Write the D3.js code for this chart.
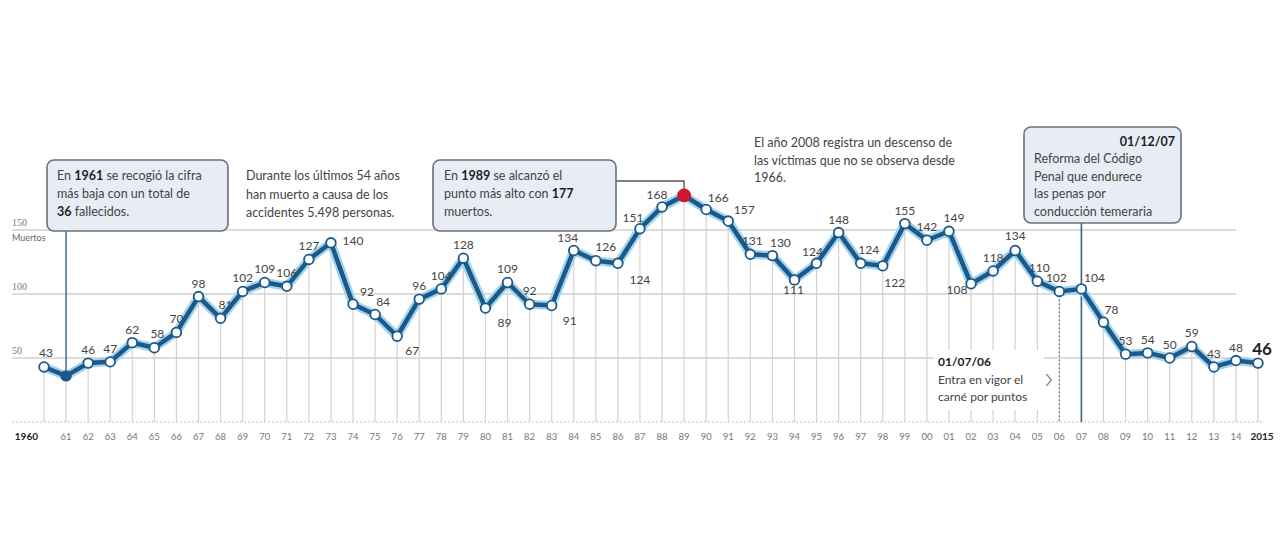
<!DOCTYPE html>
<html><head><meta charset="utf-8">
<script src="https://cdn.jsdelivr.net/npm/d3@7"></script>
<style>
html,body{margin:0;padding:0;background:#fff;}
svg{display:block;font-family:Lato,"Open Sans",sans-serif;}
</style></head>
<body>
<svg id="c" width="1280" height="548"></svg>
<script>
const years = d3.range(1960, 2016);
const deaths = [43,36,46,47,62,58,70,98,81,102,
                109,106,127,140,92,84,67,96,104,128,
                89,109,92,91,134,126,124,151,168,177,
                166,157,131,130,111,124,148,124,122,155,
                142,149,108,118,134,110,102,104,78,53,
                54,50,59,43,48,46];
const yTicks = [50,100,150];
const xTickLabels = years.map(y => (y===1960||y===2015) ? String(y) : String(y).slice(2));

// label placement (dx, dy relative to point); default above
const labelPos = {
  1960:[2,-10],1965:[3,-10],1968:[5,-9],1973:[22,2],1974:[14,-8],1975:[8,-8],
  1976:[15,19],1980:[19,19],1983:[18,19],1984:[-6,-8],1985:[10,-10],1986:[22,21],
  1987:[-7,-7],1988:[-5,-8],1990:[12,-8],1991:[16,-7],1992:[2,-9],1993:[8,-9],
  1994:[-1,14],1995:[-4,-7],1997:[8,-9],1998:[12,21],2001:[5,-9],2002:[-14,10],
  2004:[0,-10],2005:[2,-9],2006:[-3,-9],2007:[13,-7],2008:[8,-8],2015:[4,-8]
};

const svg = d3.select('#c');
const x = d3.scaleLinear().domain([1960,2015]).range([44,1258]);
const y = d3.scaleLinear().domain([0,150]).range([422,230]);
const data = years.map((yr,i)=>({yr, v:deaths[i]}));

// horizontal gridlines
svg.append('g').selectAll('line').data(yTicks).join('line')
  .attr('x1',12).attr('x2',1236).attr('y1',d=>y(d)).attr('y2',d=>y(d))
  .attr('stroke','#b9b9b9').attr('stroke-width',1);
svg.append('line').attr('x1',12).attr('x2',1262).attr('y1',y(0)).attr('y2',y(0))
  .attr('stroke','#c4c4c4').attr('stroke-dasharray','2,2');

// y labels
svg.append('g').selectAll('text').data(yTicks).join('text')
  .attr('x',12).attr('y',d=>y(d)-4).text(d=>d)
  .attr('font-size',10).attr('fill','#777').attr('font-family','"Liberation Serif",serif');
svg.append('text').attr('x',12).attr('y',y(150)+11).text('Muertos')
  .attr('font-size',9).attr('fill','#666');

// vertical year lines
svg.append('g').selectAll('line').data(data).join('line')
  .attr('x1',d=>x(d.yr)).attr('x2',d=>x(d.yr)).attr('y1',d=>y(d.v)).attr('y2',y(0))
  .attr('stroke','#d2d2d2').attr('stroke-width',1.2);

// x labels
svg.append('g').selectAll('text').data(years).join('text')
  .attr('x',(d)=> d===1960 ? 38 : x(d) + (d===2015?4:0))
  .attr('y',440)
  .attr('text-anchor',d=> d===1960 ? 'end' : 'middle')
  .attr('font-size',d=>(d===1960||d===2015)?10:9.5)
  .attr('font-weight',d=>(d===1960||d===2015)?'bold':'normal')
  .attr('fill',d=>(d===1960||d===2015)?'#222':'#777')
  .text((d,i)=>xTickLabels[i]);

// white box behind 01/07/06 note
svg.append('rect').attr('x',934).attr('y',350).attr('width',110).attr('height',60).attr('fill','#fff');
// dotted 2006 line
svg.append('line').attr('x1',x(2006)).attr('x2',x(2006)).attr('y1',y(102)).attr('y2',y(0))
  .attr('stroke','#777').attr('stroke-width',1.3).attr('stroke-dasharray','1.5,2.5');
svg.append('path').attr('d',`M${x(2006)-13},${374} l5,6 l-5,6`).attr('fill','none')
  .attr('stroke','#888').attr('stroke-width',1.3);
const n3 = svg.append('text').attr('x',938).attr('font-size',12).attr('fill','#444');
n3.append('tspan').attr('x',938).attr('y',366).attr('font-weight','bold').attr('fill','#222').text('01/07/06');
n3.append('tspan').attr('x',938).attr('y',384).text('Entra en vigor el');
n3.append('tspan').attr('x',938).attr('y',401).text('carné por puntos');

// 2007 vertical line
svg.append('line').attr('x1',x(2007)).attr('x2',x(2007)).attr('y1',223).attr('y2',y(0))
  .attr('stroke','#3c6585').attr('stroke-width',1.6);

// leader lines for boxes
svg.append('line').attr('x1',x(1961)).attr('x2',x(1961)).attr('y1',231).attr('y2',y(36))
  .attr('stroke','#4f7896').attr('stroke-width',1.6);
svg.append('path').attr('d',`M616,181 H${x(1989)} V${y(177)}`).attr('fill','none')
  .attr('stroke','#555').attr('stroke-width',1.3);

// line
const line = d3.line().x(d=>x(d.yr)).y(d=>y(d.v));
svg.append('path').datum(data).attr('d',line).attr('fill','none')
  .attr('stroke','#9fd3f0').attr('stroke-width',9).attr('stroke-linejoin','round');
svg.append('path').datum(data).attr('d',line).attr('fill','none')
  .attr('stroke','#1c5888').attr('stroke-width',4.5).attr('stroke-linejoin','round');

// points
svg.append('g').selectAll('circle').data(data).join('circle')
  .attr('cx',d=>x(d.yr)).attr('cy',d=>y(d.v))
  .attr('r',d=>d.yr===1989?6:4.8)
  .attr('fill',d=>d.yr===1989?'#d3152f':(d.yr===1961?'#1c5888':'#fff'))
  .attr('stroke',d=>d.yr===1989?'#d3152f':'#1c5888').attr('stroke-width',1.8);

// value labels
svg.append('g').selectAll('text').data(data.filter(d=>d.yr!==1961 && d.yr!==1989)).join('text')
  .attr('x',d=>x(d.yr)+(labelPos[d.yr]?labelPos[d.yr][0]:0))
  .attr('y',d=>y(d.v)+(labelPos[d.yr]?labelPos[d.yr][1]:-9))
  .attr('text-anchor','middle')
  .attr('font-size',d=>d.yr===2015?17:12)
  .attr('font-weight',d=>d.yr===2015?'bold':'normal')
  .attr('fill',d=>d.yr===2015?'#222':'#444')
  .text(d=>d.v);

// annotation boxes
function box(x0,y0,w,h){
  svg.append('rect').attr('x',x0).attr('y',y0).attr('width',w).attr('height',h).attr('rx',7)
    .attr('fill','#e8ecf5').attr('stroke','#6b6f78').attr('stroke-width',1.6);
}
function rich(x0,y0,lines,lh){
  const t = svg.append('text').attr('font-size',12.5).attr('fill','#444');
  lines.forEach((segs,i)=>{
    segs.forEach((s,j)=>{
      const ts = t.append('tspan').text(s[0]);
      if(j===0) ts.attr('x',x0).attr('y',y0+i*lh);
      if(s[1]) ts.attr('font-weight','bold').attr('fill','#222');
    });
  });
}
box(47,160,181,71);
rich(57,180,[[['En '],['1961',1],[' se recogió la cifra']],[['más baja con un total de']],[['36',1],[' fallecidos.']]],18);
box(433,160,183,71);
rich(444,180,[[['En '],['1989',1],[' se alcanzó el']],[['punto más alto con '],['177',1]],[['muertos.']]],18);
box(1024,127,157,96);
svg.append('text').attr('x',1175).attr('y',146).attr('text-anchor','end').attr('font-size',12.5)
  .attr('font-weight','bold').attr('fill','#222').text('01/12/07');
rich(1034,163,[[['Reforma del Código']],[['Penal que endurece']],[['las penas por']],[['conducción temeraria']]],17.5);

rich(246,180,[[['Durante los últimos 54 años']],[['han muerto a causa de los']],[['accidentes 5.498 personas.']]],18.5);
rich(754,147,[[['El año 2008 registra un descenso de']],[['las víctimas que no se observa desde']],[['1966.']]],17.5);
</script>
</body></html>
